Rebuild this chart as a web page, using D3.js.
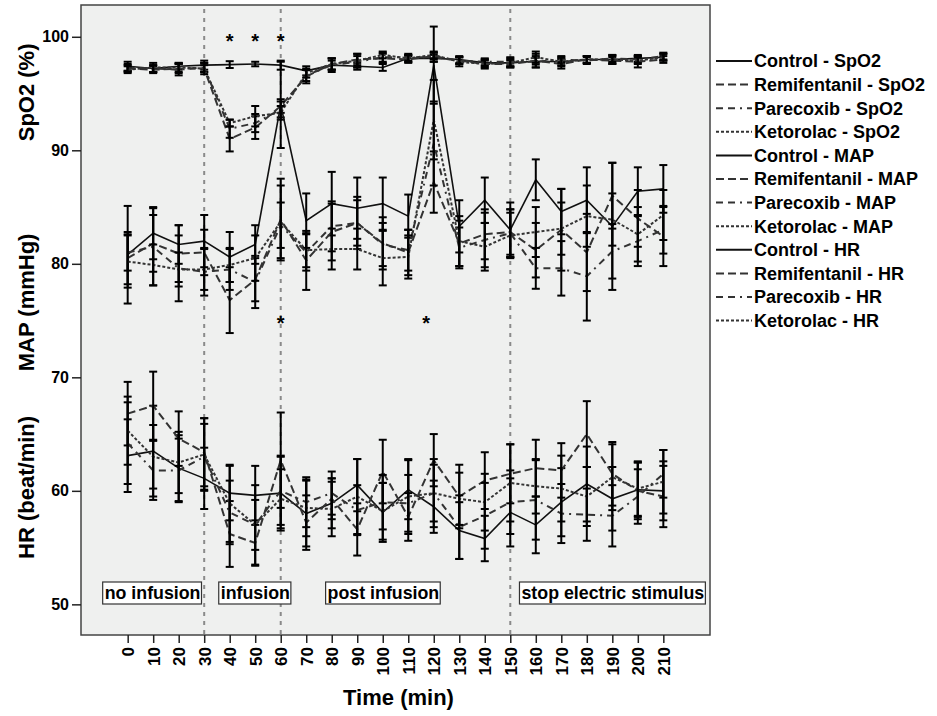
<!DOCTYPE html>
<html>
<head>
<meta charset="utf-8">
<script src="https://cdn.jsdelivr.net/npm/d3@7"></script>
<style>
  body { margin: 0; background: #fff; }
  text { font-family: "Liberation Sans", Arial, sans-serif; font-weight: bold; fill: #000; }
</style>
</head>
<body>
<svg id="chart" width="937" height="716"></svg>
<script>
var times = [0, 10, 20, 30, 40, 50, 60, 70, 80, 90, 100, 110, 120, 130, 140, 150, 160, 170, 180, 190, 200, 210];
var yTicks = [50, 60, 70, 80, 90, 100];

// SpO2 (%)
var spo2Control = [97.4, 97.2, 97.4, 97.5, 97.55, 97.6, 97.5, 97.0, 97.5, 97.4, 97.3, 98.1, 98.1, 98.0, 97.7, 97.7, 97.85, 97.8, 98.0, 98.0, 98.1, 98.2];
var spo2Remif = [97.2, 97.1, 97.2, 97.2, 91.0, 92.0, 93.9, 96.5, 97.6, 98.0, 98.1, 98.0, 98.3, 97.9, 97.6, 97.6, 97.9, 97.6, 98.0, 97.9, 97.8, 98.0];
var spo2Parecoxib = [97.3, 97.2, 97.1, 97.3, 91.9, 92.4, 93.6, 96.6, 97.5, 97.8, 98.2, 98.2, 98.2, 97.9, 97.8, 97.8, 97.8, 98.0, 97.9, 98.1, 98.0, 98.3];
var spo2Ketorolac = [97.1, 97.3, 97.3, 97.2, 92.4, 93.0, 93.3, 96.8, 97.6, 97.9, 98.4, 98.1, 98.4, 97.8, 97.6, 97.7, 98.2, 97.8, 98.0, 98.0, 97.9, 98.2];
var spo2ControlErr = [0.4, 0.3, 0.3, 0.4, 0.3, 0.2, 0.4, 0.4, 0.4, 0.3, 0.3, 0.3, 0.3, 0.3, 0.3, 0.3, 0.3, 0.3, 0.3, 0.3, 0.3, 0.3];
var spo2RemifErr = [0.3, 0.3, 0.4, 0.3, 1.1, 1.0, 0.6, 0.6, 0.5, 0.5, 0.4, 0.3, 0.3, 0.3, 0.4, 0.3, 0.6, 0.4, 0.3, 0.3, 0.5, 0.3];
var spo2ParecoxibErr = [0.3, 0.3, 0.5, 0.4, 0.8, 0.8, 0.7, 0.5, 0.6, 0.5, 0.4, 0.3, 0.4, 0.3, 0.3, 0.4, 0.5, 0.3, 0.3, 0.3, 0.3, 0.3];
var spo2KetorolacErr = [0.3, 0.4, 0.4, 0.5, 0.3, 0.9, 0.6, 0.4, 0.5, 0.6, 0.3, 0.3, 0.3, 0.4, 0.3, 0.4, 0.5, 0.4, 0.3, 0.4, 0.3, 0.3];

// MAP (mmHg)
var mapControl = [80.8, 82.7, 81.7, 82.0, 80.6, 81.7, 94.0, 83.8, 85.3, 84.9, 85.3, 84.2, 97.5, 83.3, 85.6, 83.0, 87.4, 84.6, 85.6, 83.3, 86.4, 86.6];
var mapRemif = [80.5, 81.8, 80.9, 81.0, 76.8, 78.6, 83.9, 80.3, 82.8, 83.6, 81.8, 81.0, 87.2, 81.8, 82.6, 82.8, 81.2, 83.0, 81.0, 86.0, 84.0, 82.4];
var mapParecoxib = [81.0, 81.5, 79.6, 79.3, 79.5, 78.4, 83.4, 81.0, 83.3, 83.6, 81.7, 81.2, 90.6, 81.4, 82.1, 82.7, 79.6, 79.6, 78.9, 81.1, 82.0, 83.0];
var mapKetorolac = [80.2, 79.9, 79.5, 79.5, 79.9, 80.5, 83.7, 81.2, 81.3, 81.3, 80.5, 80.6, 92.7, 82.0, 81.5, 82.5, 82.8, 83.1, 84.2, 83.9, 82.6, 84.3];
var mapControlErr = [4.3, 2.3, 1.7, 2.3, 2.2, 1.7, 3.8, 2.4, 2.8, 2.7, 2.3, 1.9, 3.4, 2.3, 2.0, 2.4, 1.8, 2.0, 2.9, 5.6, 2.1, 2.1];
var mapRemifErr = [2.3, 2.5, 2.5, 2.0, 2.9, 1.9, 3.6, 2.6, 2.5, 2.3, 2.3, 2.0, 2.7, 2.0, 2.2, 2.0, 2.4, 3.6, 3.4, 2.9, 2.5, 2.6];
var mapParecoxibErr = [1.6, 3.4, 2.9, 2.1, 1.8, 2.3, 2.0, 1.6, 2.2, 2.0, 1.9, 1.8, 3.7, 1.8, 2.4, 2.1, 1.8, 2.4, 3.9, 2.4, 2.2, 2.1];
var mapKetorolacErr = [2.3, 1.8, 1.5, 1.8, 1.5, 2.0, 3.2, 1.5, 1.8, 1.8, 2.4, 1.9, 3.5, 2.2, 2.1, 2.0, 2.2, 2.3, 2.7, 2.3, 2.4, 2.2];

// HR (beat/min)
var hrControl = [63.1, 63.5, 62.0, 61.1, 59.8, 59.6, 59.8, 58.0, 58.9, 60.5, 58.1, 60.1, 58.6, 56.5, 55.8, 58.1, 57.0, 59.0, 60.6, 59.3, 60.1, 60.0];
var hrRemif = [66.8, 67.5, 64.6, 63.4, 56.2, 55.4, 62.7, 57.2, 59.3, 56.6, 61.7, 57.7, 62.7, 59.5, 60.9, 61.5, 62.0, 61.8, 65.0, 61.5, 60.0, 59.5];
var hrParecoxib = [64.2, 61.8, 61.8, 63.0, 58.1, 57.0, 60.0, 59.0, 59.8, 58.3, 59.0, 58.9, 59.8, 56.8, 57.8, 59.0, 59.2, 58.0, 57.9, 57.8, 59.5, 61.5];
var hrKetorolac = [65.3, 63.0, 62.5, 63.2, 58.9, 57.0, 59.3, 58.5, 58.4, 59.5, 58.2, 59.5, 59.8, 59.3, 59.0, 60.7, 60.4, 60.2, 59.5, 61.2, 60.2, 60.8];
var hrControlErr = [3.2, 4.0, 2.9, 2.7, 2.4, 2.6, 3.3, 2.9, 2.2, 2.3, 2.6, 2.6, 2.3, 2.5, 2.0, 3.0, 2.5, 3.0, 3.3, 2.8, 2.4, 2.6];
var hrRemifErr = [2.8, 3.0, 2.4, 3.0, 2.9, 2.0, 4.2, 2.4, 1.8, 2.3, 2.8, 2.1, 2.3, 2.8, 2.5, 2.6, 2.5, 2.4, 2.9, 2.8, 2.5, 2.7];
var hrParecoxibErr = [3.6, 2.6, 2.8, 2.9, 2.8, 2.2, 3.0, 2.2, 1.9, 2.2, 2.4, 2.5, 2.5, 2.8, 2.9, 2.8, 3.5, 2.6, 2.3, 2.7, 2.4, 2.1];
var hrKetorolacErr = [3.0, 2.8, 2.7, 3.2, 3.4, 3.5, 2.6, 2.5, 2.4, 3.3, 2.5, 3.3, 3.0, 2.3, 2.5, 3.4, 2.4, 2.9, 2.6, 2.9, 2.4, 2.8];

// annotations
var phaseLines = [30, 60, 150];
var phaseLabels = ["no infusion", "infusion", "post infusion", "stop electric stimulus"];
var phaseLabelStart = [-9.8, 35.7, 77.6, 153.6];
var phaseLabelValue = 51.0;
var starTimes = [40, 50, 60, 60, 117];
var starValues = [100, 100, 100, 75.1, 75.1];

var styles = {
  Control: { dash: null, color: "#111", width: 1.6 },
  Remifentanil: { dash: "8,4", color: "#333", width: 2 },
  Parecoxib: { dash: "7,5,7,5,2,5", color: "#333", width: 2 },
  Ketorolac: { dash: "3,2", color: "#333", width: 2 }
};

var series = [
  { name: "Control - SpO2", group: "Control", mean: spo2Control, err: spo2ControlErr },
  { name: "Remifentanil - SpO2", group: "Remifentanil", mean: spo2Remif, err: spo2RemifErr },
  { name: "Parecoxib - SpO2", group: "Parecoxib", mean: spo2Parecoxib, err: spo2ParecoxibErr },
  { name: "Ketorolac - SpO2", group: "Ketorolac", mean: spo2Ketorolac, err: spo2KetorolacErr },
  { name: "Control - MAP", group: "Control", mean: mapControl, err: mapControlErr },
  { name: "Remifentanil - MAP", group: "Remifentanil", mean: mapRemif, err: mapRemifErr },
  { name: "Parecoxib - MAP", group: "Parecoxib", mean: mapParecoxib, err: mapParecoxibErr },
  { name: "Ketorolac - MAP", group: "Ketorolac", mean: mapKetorolac, err: mapKetorolacErr },
  { name: "Control - HR", group: "Control", mean: hrControl, err: hrControlErr },
  { name: "Remifentanil - HR", group: "Remifentanil", mean: hrRemif, err: hrRemifErr },
  { name: "Parecoxib - HR", group: "Parecoxib", mean: hrParecoxib, err: hrParecoxibErr },
  { name: "Ketorolac - HR", group: "Ketorolac", mean: hrKetorolac, err: hrKetorolacErr }
];

var plot = { left: 81, right: 710, top: 5, bottom: 635 };
var svg = d3.select("#chart");

var x = d3.scalePoint().domain(times).range([plot.left, plot.right]).padding(1.83);
var xLin = d3.scaleLinear().domain([0, 210]).range([x(0), x(210)]);
var y = d3.scaleLinear().domain([47.3, 102.8]).range([plot.bottom, plot.top]);

// plot background
svg.append("rect")
  .attr("x", plot.left).attr("y", plot.top)
  .attr("width", plot.right - plot.left).attr("height", plot.bottom - plot.top)
  .attr("fill", "#eff0ef");

// phase separators
svg.selectAll(".phase")
  .data(phaseLines)
  .enter()
  .append("line")
  .attr("class", "phase")
  .attr("x1", function (d) { return x(d); })
  .attr("x2", function (d) { return x(d); })
  .attr("y1", plot.top + 4).attr("y2", plot.bottom)
  .attr("stroke", "#8a8a8a")
  .attr("stroke-width", 2)
  .attr("stroke-dasharray", "4,5");

var line = d3.line()
  .x(function (d) { return x(d.t); })
  .y(function (d) { return y(d.v); });

series.forEach(function (s) {
  var st = styles[s.group];
  var pts = times.map(function (t, i) {
    return { t: t, v: s.mean[i], e: s.err[i] };
  });

  svg.append("path")
    .datum(pts)
    .attr("d", line)
    .attr("fill", "none")
    .attr("stroke", st.color)
    .attr("stroke-width", st.width)
    .attr("stroke-dasharray", st.dash);

  var bars = svg.append("g").attr("class", "errbars");
  bars.selectAll(".bar")
    .data(pts)
    .enter()
    .append("line")
    .attr("x1", function (d) { return x(d.t); })
    .attr("x2", function (d) { return x(d.t); })
    .attr("y1", function (d) { return y(d.v - d.e); })
    .attr("y2", function (d) { return y(d.v + d.e); })
    .attr("stroke", "#000")
    .attr("stroke-width", 2);

  [-1, 1].forEach(function (sign) {
    bars.selectAll(".cap" + sign)
      .data(pts)
      .enter()
      .append("line")
      .attr("x1", function (d) { return x(d.t) - 4; })
      .attr("x2", function (d) { return x(d.t) + 4; })
      .attr("y1", function (d) { return y(d.v + sign * d.e); })
      .attr("y2", function (d) { return y(d.v + sign * d.e); })
      .attr("stroke", "#000")
      .attr("stroke-width", 2);
  });
});

// significance stars
svg.selectAll(".star")
  .data(starTimes)
  .enter()
  .append("text")
  .attr("class", "star")
  .attr("x", function (d) { return xLin(d); })
  .attr("y", function (d, i) { return y(starValues[i]) + 11; })
  .attr("text-anchor", "middle")
  .style("font-size", "20px")
  .text("*");

// phase labels with white boxes
phaseLabels.forEach(function (label, i) {
  var g = svg.append("g");
  var t = g.append("text")
    .attr("x", xLin(phaseLabelStart[i]) + 2)
    .attr("y", y(phaseLabelValue))
    .attr("dy", "0.35em")
    .style("font-size", "17.8px")
    .text(label);
  var bb = t.node().getBBox();
  g.insert("rect", "text")
    .attr("x", bb.x - 2).attr("y", y(phaseLabelValue) - 11)
    .attr("width", bb.width + 3).attr("height", 22)
    .attr("fill", "#fff")
    .attr("stroke", "#333")
    .attr("stroke-width", 1.2);
});

// frame
svg.append("rect")
  .attr("x", plot.left).attr("y", plot.top)
  .attr("width", plot.right - plot.left).attr("height", plot.bottom - plot.top)
  .attr("fill", "none")
  .attr("stroke", "#444")
  .attr("stroke-width", 1.5);

// y axis
var yAxis = svg.append("g")
  .attr("transform", "translate(" + plot.left + ",0)")
  .call(d3.axisLeft(y).tickValues(yTicks).tickSize(9).tickPadding(3));
yAxis.select(".domain").remove();
yAxis.selectAll(".tick line").attr("stroke", "#222").attr("stroke-width", 1.5);
yAxis.selectAll(".tick text").style("font-size", "16px").style("font-family", "Liberation Sans, Arial, sans-serif").style("font-weight", "bold");

// x axis
var xAxis = svg.append("g")
  .attr("transform", "translate(0," + plot.bottom + ")")
  .call(d3.axisBottom(x).tickSize(8).tickPadding(4));
xAxis.select(".domain").remove();
xAxis.selectAll(".tick line").attr("stroke", "#222").attr("stroke-width", 1.5);
xAxis.selectAll(".tick text")
  .style("font-size", "17px")
  .style("font-family", "Liberation Sans, Arial, sans-serif")
  .style("font-weight", "bold")
  .attr("transform", "rotate(-90)")
  .attr("text-anchor", "end")
  .attr("x", -12)
  .attr("y", 0)
  .attr("dy", "0.35em");

// axis titles, centred on the value they sit beside
var yTitles = [["SpO2 (%)", 95.1], ["MAP (mmHg)", 76.6], ["HR (beat/min)", 60.3]];
yTitles.forEach(function (d) {
  svg.append("text")
    .attr("transform", "translate(34," + y(d[1]) + ") rotate(-90)")
    .attr("text-anchor", "middle")
    .style("font-size", "22px")
    .text(d[0]);
});

svg.append("text")
  .attr("x", (plot.left + plot.right) / 2 + 3)
  .attr("y", 705)
  .attr("text-anchor", "middle")
  .style("font-size", "22px")
  .text("Time (min)");

// legend
var legend = svg.append("g").attr("transform", "translate(716,61)");
var items = legend.selectAll(".item")
  .data(series)
  .enter()
  .append("g")
  .attr("class", "item")
  .attr("transform", function (d, i) { return "translate(0," + (i * 23.6) + ")"; });

items.append("line")
  .attr("x1", 0).attr("x2", 36)
  .attr("y1", 0).attr("y2", 0)
  .attr("stroke", function (d) { return styles[d.group].color; })
  .attr("stroke-width", 2)
  .attr("stroke-dasharray", function (d) { return styles[d.group].dash; });

items.append("text")
  .attr("x", 38)
  .attr("y", 0)
  .attr("dy", "0.36em")
  .style("font-size", "18px")
  .text(function (d) { return d.name; });
</script>
</body>
</html>
